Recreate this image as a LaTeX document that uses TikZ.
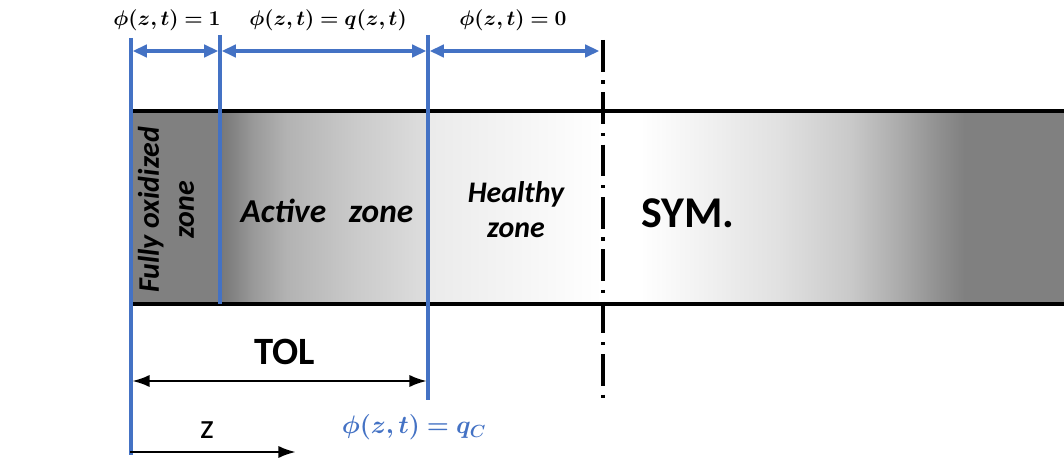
\documentclass[tikz,border=0pt]{standalone}
\usepackage{amsmath}
\usepackage{bm}
\usepackage{fontspec}
\setsansfont{Carlito}
\usepackage{xcolor}
\definecolor{zoneblue}{RGB}{68, 114, 196}
\usetikzlibrary{arrows.meta, positioning, calc}

% shadings of the zones (25bp..75bp is the filled part)
\pgfdeclarehorizontalshading{activeshade}{100bp}{color(0bp)=(black!53); color(25bp)=(black!53); color(27.4bp)=(black!50); color(32.9bp)=(black!40); color(41bp)=(black!30); color(57bp)=(black!21); color(75bp)=(black!13); color(100bp)=(black!13)}
\pgfdeclarehorizontalshading{symshade}{100bp}{color(0bp)=(white); color(29bp)=(white); color(35.5bp)=(black!5); color(44.2bp)=(black!12); color(51.8bp)=(black!21); color(57.2bp)=(black!33); color(61.6bp)=(black!44); color(64.3bp)=(black!50); color(100bp)=(black!50)}

\begin{document}
\begin{tikzpicture}[x=0.02cm, y=-0.02cm, >=Latex]

        % Estilos
        \tikzstyle{zonetext} = [font=\sffamily\bfseries\itshape\fontsize{17}{20}\selectfont, align=center, inner sep=0pt]
        \tikzstyle{bigtext} = [font=\sffamily\bfseries\fontsize{22}{26}\selectfont, inner sep=0pt]
        \tikzstyle{phitext} = [font=\fontsize{13}{15}\selectfont, inner sep=0pt]
        \tikzstyle{bound} = [draw=zoneblue, line width=2pt]
        \tikzstyle{dimblue} = [draw=zoneblue, line width=2pt, {Triangle[length=8pt, width=7pt]}-{Triangle[length=8pt, width=7pt]}, shorten <=1pt, shorten >=1pt]

        \useasboundingbox (0,0) rectangle (1064,462);

        % Pontos de referencia
        \coordinate (q0top) at (131,38);
        \coordinate (q0bot) at (131,455);
        \coordinate (q1top) at (220,35);
        \coordinate (q1bot) at (220,304);
        \coordinate (q2top) at (428,35);
        \coordinate (q2bot) at (428,400);
        \coordinate (symtop) at (603,40);
        \coordinate (symbot) at (603,402);
        \coordinate (barleft) at (132,111);
        \coordinate (barright) at (1064,304);

        % Zonas do corpo
        \fill[black!50] (barleft) rectangle (q1bot);
        \shade[shading=activeshade] (220,111) rectangle (q2top |- barright);
        \shade[left color=black!8, right color=white] (428,111) rectangle (symtop |- barright);
        \shade[shading=symshade] (603,111) rectangle (barright);

        % Bordas do corpo
        \draw[line width=2.4pt] (barleft) -- (barleft -| barright);
        \draw[line width=2.4pt] (barleft |- barright) -- (barright);

        % Linha de simetria
        \draw[line width=1.8pt, dash pattern=on 18pt off 5pt on 1.8pt off 5pt] (symtop) -- (symbot);

        % Fronteiras das zonas
        \draw[bound] (q0top) -- (q0bot);
        \draw[bound] (q1top) -- (q1bot);
        \draw[bound] (q2top) -- (q2bot);

        % Cotas superiores
        \coordinate (a0) at (131,51);
        \coordinate (a1) at (220,51);
        \coordinate (a2) at (428,51);
        \coordinate (a3) at (601,51);
        \draw[dimblue] (a0) -- (a1);
        \draw[dimblue] (a1) -- (a2);
        \draw[dimblue] (a2) -- (a3);
        \node[phitext] (phione) at (167,20) {$\bm{\phi(z,t)=1}$};
        \node[phitext] (phiq) at (328,20) {$\bm{\phi(z,t)=q(z,t)}$};
        \node[phitext] (phizero) at (513,20) {$\bm{\phi(z,t)=0}$};

        % Textos das zonas
        \node[zonetext, rotate=90] (oxzone) at (166,210) {Fully oxidized\\zone};
        \node[zonetext, font=\sffamily\bfseries\itshape\fontsize{19}{22}\selectfont] (actzone) at (327,211) {Active\ \ \ zone};
        \node[zonetext] (healzone) at (516,210) {Healthy\\zone};
        \node[font=\sffamily\bfseries\fontsize{25}{30}\selectfont, inner sep=0pt] (sym) at (688,213) {SYM.};

        % TOL
        \coordinate (tolL) at (132,381);
        \coordinate (tolR) at (427,381);
        \draw[line width=1.6pt, {Latex[length=10pt, width=7pt]}-{Latex[length=10pt, width=7pt]}] (tolL) -- (tolR);
        \node[bigtext] (tol) at (285,352) {TOL};
        \node[font=\fontsize{14}{16}\selectfont, text=zoneblue, inner sep=0pt] (phiqc) at (414,427) {$\bm{\phi(z,t)=q_C}$};

        % Eixo z
        \coordinate (zstart) at (130,452);
        \coordinate (zend) at (296,452);
        \draw[line width=1.6pt, -{Latex[length=10pt, width=7pt]}] (zstart) -- (zend);
        \node[font=\sffamily\fontsize{20}{24}\selectfont, inner sep=0pt] (zlabel) at (207,430) {z};

\end{tikzpicture}
\end{document}
